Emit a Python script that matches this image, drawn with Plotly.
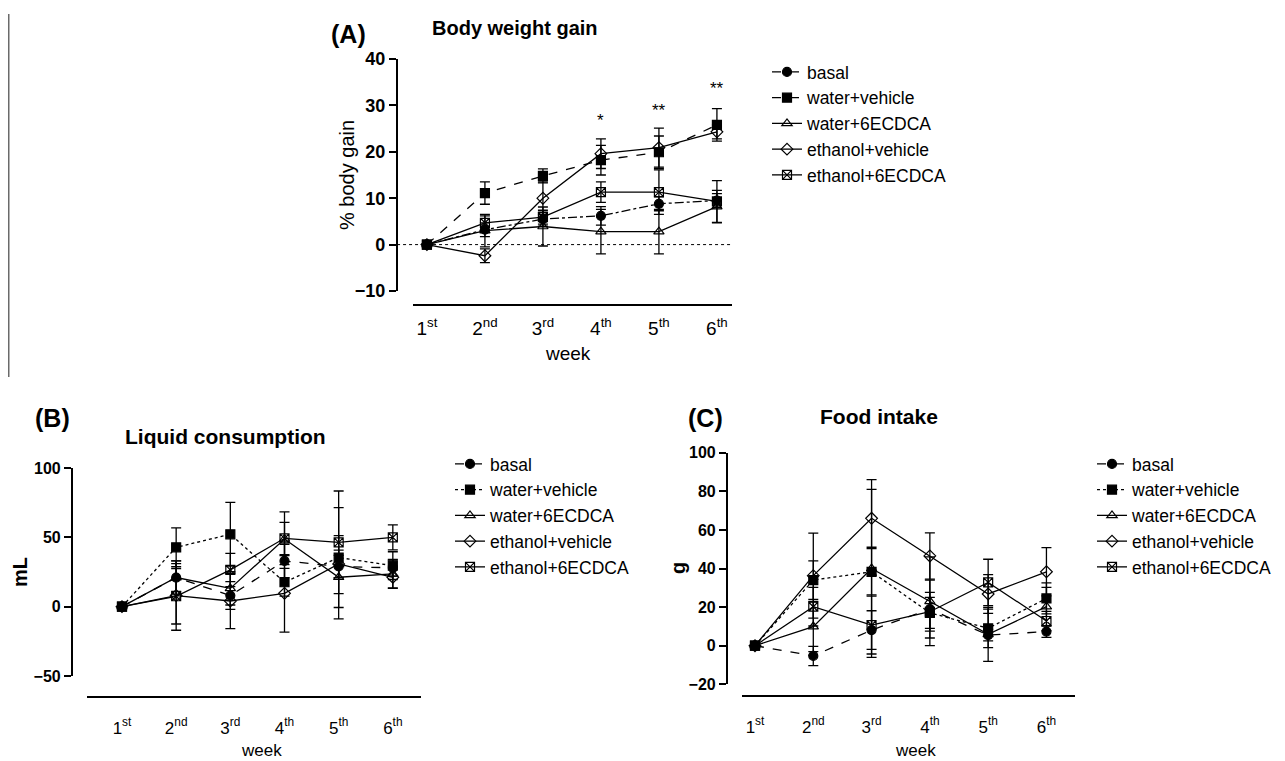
import plotly.graph_objects as go

W, H = 1277, 753   # page body adds an 8px margin; figure fills the rest of 1285x761
OFF = 8

weeks = ["1<sup>st</sup>", "2<sup>nd</sup>", "3<sup>rd</sup>", "4<sup>th</sup>", "5<sup>th</sup>", "6<sup>th</sup>"]
groups = ["basal", "water+vehicle", "water+6ECDCA", "ethanol+vehicle", "ethanol+6ECDCA"]

# Panel A: % body weight gain (mean, error)
gainBasal = [0, 3.2, 5.5, 6.2, 8.8, 9.5]
gainWaterVeh = [0, 11.1, 14.8, 18.2, 19.9, 25.8]
gainWater6E = [0, 3.0, 3.9, 2.8, 2.8, 8.2]
gainEthVeh = [0, -2.4, 10.0, 19.6, 20.9, 24.3]
gainEth6E = [0, 4.7, 5.9, 11.3, 11.3, 9.3]
errGainBasal = [0, 1.5, 1.5, 2.0, 1.5, 1.5]
errGainWaterVeh = [0, 2.4, 1.5, 3.2, 3.5, 3.5]
errGainWater6E = [0, 3.5, 4.2, 4.8, 4.8, 3.5]
errGainEthVeh = [0, 1.5, 3.5, 3.2, 4.2, 1.5]
errGainEth6E = [0, 1.5, 1.5, 2.2, 4.8, 4.5]
sigWeeks = ["4<sup>th</sup>", "5<sup>th</sup>", "6<sup>th</sup>"]
sigLabels = ["*", "**", "**"]
sigLevels = [26.7, 28.9, 33.6]

# Panel B: liquid consumption (mL)
liqBasal = [0, 21, 8, 33, 29, 28]
liqWaterVeh = [0, 42.8, 52.2, 17.6, 35.4, 29.6]
liqWater6E = [0, 21, 13.2, 48.8, 21.2, 23.6]
liqEthVeh = [0, 8, 4.1, 9.6, 30.8, 21.2]
liqEth6E = [0, 7.5, 26.5, 49.3, 46.4, 50]
errLiqBasal = [0, 12, 10, 12, 8, 6]
errLiqWaterVeh = [0, 14, 23, 10, 36, 10]
errLiqWater6E = [0, 10, 12, 12, 30, 10]
errLiqEthVeh = [0, 25, 20, 28, 10, 8]
errLiqEth6E = [0, 20, 12, 19, 37, 9]

# Panel C: food intake (g)
foodBasal = [0, -5.3, 8.1, 19, 5.5, 7.3]
foodWaterVeh = [0, 34, 38.3, 17, 9, 24.5]
foodWater6E = [0, 9.9, 40, 23, 5.9, 20.2]
foodEthVeh = [0, 36.3, 66, 46.5, 26.8, 38.3]
foodEth6E = [0, 20.2, 10.7, 17.6, 32.8, 12.8]
errFoodBasal = [0, 5, 10, 15, 3, 3]
errFoodWaterVeh = [0, 10, 12, 8, 10, 8]
errFoodWater6E = [0, 13, 46, 23, 14, 10]
errFoodEthVeh = [0, 22, 15, 12, 10, 12.5]
errFoodEth6E = [0, 10, 15, 10, 12, 5]

FONT = "Arial, Liberation Sans, sans-serif"
symbols = ["circle", "square", "triangle-up-open", "diamond-open", "square-x-open"]


def px(x):
    return (x - OFF) / W


def py(y):
    return 1 - (y - OFF) / H


fig = go.Figure()


def add_panel(series, errs, dashes, xa, ya, legend):
    for i, (name, vals, err) in enumerate(zip(groups, series, errs)):
        fig.add_trace(go.Scatter(
            x=weeks, y=vals, name=name, mode="lines+markers",
            xaxis=xa, yaxis=ya, legend=legend,
            line=dict(color="black", width=1.3, dash=dashes[i]),
            marker=dict(symbol=symbols[i], size=9, color="black",
                        line=dict(color="black", width=1.2)),
            error_y=dict(type="data", array=err, visible=True, color="black",
                         thickness=1.3, width=5),
            cliponaxis=False,
        ))


add_panel([gainBasal, gainWaterVeh, gainWater6E, gainEthVeh, gainEth6E],
          [errGainBasal, errGainWaterVeh, errGainWater6E, errGainEthVeh, errGainEth6E],
          ["dashdot", "dash", "solid", "solid", "solid"], "x", "y", "legend")
add_panel([liqBasal, liqWaterVeh, liqWater6E, liqEthVeh, liqEth6E],
          [errLiqBasal, errLiqWaterVeh, errLiqWater6E, errLiqEthVeh, errLiqEth6E],
          ["dash", "dot", "solid", "solid", "solid"], "x2", "y2", "legend2")
add_panel([foodBasal, foodWaterVeh, foodWater6E, foodEthVeh, foodEth6E],
          [errFoodBasal, errFoodWaterVeh, errFoodWater6E, errFoodEthVeh, errFoodEth6E],
          ["dash", "dot", "solid", "solid", "solid"], "x3", "y3", "legend3")


def xax(size, standoff):
    return dict(type="category", showline=True, linecolor="black", linewidth=2.2,
                ticks="", showgrid=False, zeroline=False, anchor="free",
                ticklabelstandoff=standoff, automargin=False,
                tickfont=dict(family=FONT, size=size, color="black"))


def yax(size):
    return dict(showline=True, linecolor="black", linewidth=2.2, ticks="outside",
                ticklen=7, tickwidth=2, tickcolor="black", showgrid=False,
                zeroline=False, anchor="free", automargin=False,
                tickfont=dict(family=FONT, size=size, color="black", weight="bold"))


legcommon = dict(font=dict(family=FONT, size=17.5, color="black"), bgcolor="rgba(0,0,0,0)",
                 xanchor="left", yanchor="top", tracegroupgap=0, itemwidth=30)

fig.update_layout(
    width=W, height=H, margin=dict(l=0, r=0, t=0, b=0, autoexpand=False),
    paper_bgcolor="white", plot_bgcolor="white",
    xaxis=dict(xax(19, 6), domain=[px(413), px(732)], range=[-0.24, 5.26], position=py(305)),
    yaxis=dict(yax(18), domain=[py(291), py(59)], range=[-10, 40], position=px(397),
               tickvals=[-10, 0, 10, 20, 30, 40]),
    xaxis2=dict(xax(17, 15), domain=[px(87), px(421)], range=[-0.646, 5.52], position=py(697)),
    yaxis2=dict(yax(16), domain=[py(676), py(468)], range=[-50, 100], position=px(72),
                tickvals=[-50, 0, 50, 100]),
    xaxis3=dict(xax(17, 15), domain=[px(742), px(1075)], range=[-0.223, 5.49], position=py(696)),
    yaxis3=dict(yax(16), domain=[py(684.3), py(452.7)], range=[-20, 100], position=px(727),
                tickvals=[-20, 0, 20, 40, 60, 80, 100]),
    legend=dict(legcommon, x=px(767), y=py(54)),
    legend2=dict(legcommon, x=px(450), y=py(446)),
    legend3=dict(legcommon, x=px(1092), y=py(446)),
    showlegend=True,
)

# dotted zero line in panel A
fig.add_shape(type="line", xref="x domain", yref="y", x0=-0.05, x1=1.0, y0=0, y1=0,
              line=dict(color="black", width=1, dash="dot"))

# left gray rule
fig.add_shape(type="line", xref="paper", yref="paper", x0=px(8.5), x1=px(8.5),
              y0=py(14), y1=py(377), line=dict(color="#6a6a6a", width=2))

ann = []
for wk, lab, lv in zip(sigWeeks, sigLabels, sigLevels):
    ann.append(dict(x=wk, y=lv, xref="x", yref="y", text=lab, showarrow=False,
                    font=dict(family=FONT, size=17, color="black")))


def txt(x, y, t, size, bold=True, angle=0):
    ann.append(dict(x=px(x), y=py(y), xref="paper", yref="paper", text=t, showarrow=False,
                    textangle=angle, xanchor="center", yanchor="middle",
                    font=dict(family=FONT, size=size, color="black",
                              weight="bold" if bold else "normal")))


txt(348, 34, "(A)", 25)
txt(515, 28, "Body weight gain", 20)
txt(347, 175, "% body gain", 20, bold=False, angle=-90)
txt(568, 353, "week", 19, bold=False)

txt(52, 418, "(B)", 25)
txt(225, 436, "Liquid consumption", 21)
txt(20, 572, "mL", 20, angle=-90)
txt(261, 750, "week", 17, bold=False)

txt(705, 418, "(C)", 25)
txt(879, 417, "Food intake", 21)
txt(678, 568, "g", 20, angle=-90)
txt(915, 750, "week", 17, bold=False)

fig.update_layout(annotations=ann)

fig.write_html("out.html")
